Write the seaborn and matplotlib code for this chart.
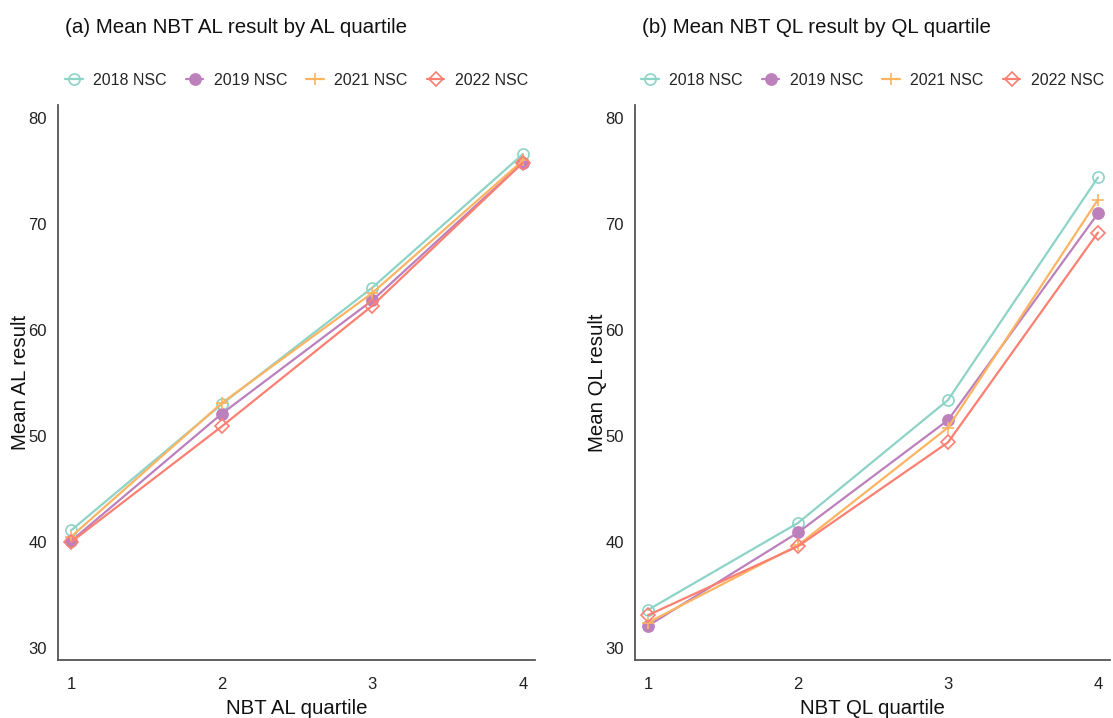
import matplotlib
matplotlib.use("Agg")
import matplotlib.pyplot as plt
import seaborn as sns
import pandas as pd

sns.set_theme(style="white")
plt.rcParams['font.family'] = ['Liberation Sans', 'DejaVu Sans']

quartiles = [1, 2, 3, 4]
years = ["2018 NSC", "2019 NSC", "2021 NSC", "2022 NSC"]

al_2018 = [41.1, 53.0, 64.0, 76.6]
al_2019 = [40.1, 52.1, 62.8, 75.8]
al_2021 = [40.5, 53.1, 63.5, 76.0]
al_2022 = [40.0, 50.9, 62.3, 75.8]

ql_2018 = [33.6, 41.8, 53.4, 74.4]
ql_2019 = [32.1, 40.9, 51.5, 71.0]
ql_2021 = [32.4, 39.7, 50.8, 72.3]
ql_2022 = [33.1, 39.6, 49.4, 69.2]

colors = {"2018 NSC": "#8dd3c7", "2019 NSC": "#bc80bd",
          "2021 NSC": "#fdb462", "2022 NSC": "#fb8072"}
markers = {"2018 NSC": ("o", False), "2019 NSC": ("o", True),
           "2021 NSC": ("+", True), "2022 NSC": ("D", False)}
msizes = {"2018 NSC": 8, "2019 NSC": 8, "2021 NSC": 9, "2022 NSC": 7}

panels = [
    ("(a) Mean NBT AL result by AL quartile", "NBT AL quartile", "Mean AL result",
     [al_2018, al_2019, al_2021, al_2022]),
    ("(b) Mean NBT QL result by QL quartile", "NBT QL quartile", "Mean QL result",
     [ql_2018, ql_2019, ql_2021, ql_2022]),
]

fig = plt.figure(figsize=(11.13, 7.18), dpi=100)
W, H = 1113, 718
axes_px = [(58, 535), (635, 1110)]
top_px, bot_px = 105, 660

for (title, xlabel, ylabel, series), (x0, x1) in zip(panels, axes_px):
    ax = fig.add_axes([x0 / W, 1 - bot_px / H, (x1 - x0) / W, (bot_px - top_px) / H])
    rows = []
    for yr, vals in zip(years, series):
        for q, v in zip(quartiles, vals):
            rows.append({"quartile": q, "value": v, "year": yr})
    df = pd.DataFrame(rows)
    for yr in years:
        sub = df[df["year"] == yr]
        m, filled = markers[yr]
        c = colors[yr]
        sns.lineplot(data=sub, x="quartile", y="value", ax=ax, color=c,
                     linewidth=1.6, marker=m, markersize=msizes[yr],
                     markerfacecolor=(c if filled else "none"),
                     markeredgecolor=c, markeredgewidth=1.2, label=yr)
    ax.set_xlim(0.913, 4.08)
    ax.set_ylim(28.87, 81.23)
    ax.set_xticks(quartiles)
    ax.set_yticks([30, 40, 50, 60, 70, 80])
    ax.tick_params(axis="both", length=0, labelsize=12, colors="#222222")
    ax.tick_params(axis="x", pad=12)
    ax.tick_params(axis="y", pad=8)
    for s in ["top", "right"]:
        ax.spines[s].set_visible(False)
    for s in ["left", "bottom"]:
        ax.spines[s].set_color("#555555")
        ax.spines[s].set_linewidth(1.3)
    ax.set_xlabel(xlabel, fontsize=14.7, color="#111111", labelpad=5)
    ax.set_ylabel(ylabel, fontsize=14.7, color="#111111")
    ax.yaxis.set_label_coords(-28 / (x1 - x0), 0.5)
    ax.set_title(title, fontsize=14.8, loc="left", x=0.015, y=1.115, color="#111111")
    ax.legend(loc="center", bbox_to_anchor=(0.5, 1.045), ncol=4, frameon=False,
              fontsize=11.5, handlelength=1.1, columnspacing=1.2, handletextpad=0.65)

fig.savefig("out.png", dpi=100)
